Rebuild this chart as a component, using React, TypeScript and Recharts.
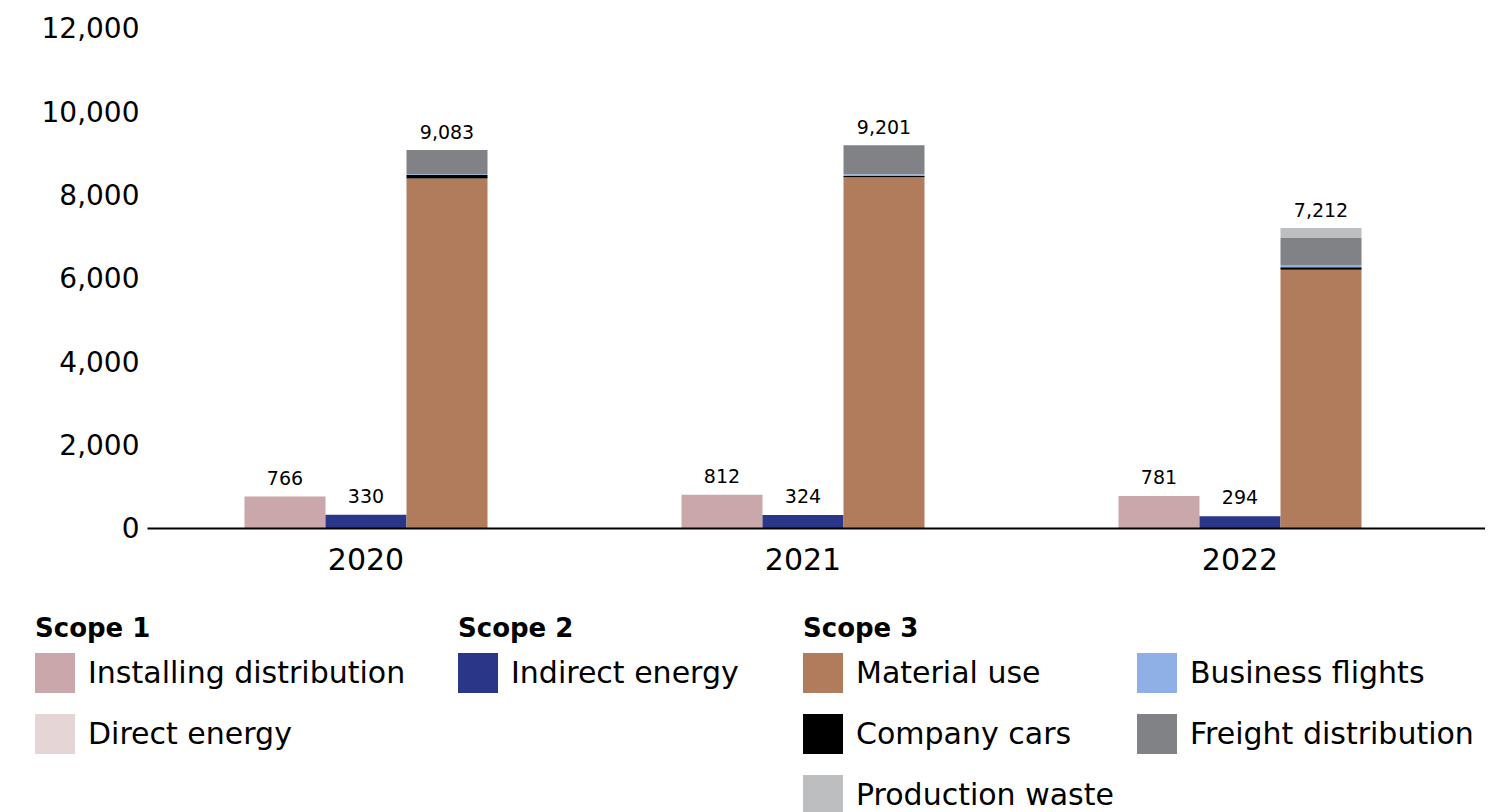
import React from "react";
import { BarChart, Bar, XAxis, YAxis, LabelList } from "recharts";

const years = ["2020", "2021", "2022"];
const installingDistribution = [766, 812, 781];
const directEnergy = [0, 0, 0];
const indirectEnergy = [330, 324, 294];
const materialUse = [8400, 8430, 6210];
const companyCars = [85, 30, 60];
const businessFlights = [20, 45, 40];
const freightDistribution = [578, 696, 675];
const productionWaste = [0, 0, 227];
const scope3Totals = [9083, 9201, 7212];
const yTicks = [0, 2000, 4000, 6000, 8000, 10000, 12000];

const COLORS = {
  installing: "#c9a7aa",
  direct: "#e6d5d7",
  indirect: "#2a3687",
  material: "#b07c5c",
  cars: "#000000",
  flights: "#8fb0e6",
  freight: "#808285",
  waste: "#bdbec0",
};

const data = years.map((y, i) => ({
  year: y,
  installingDistribution: installingDistribution[i],
  directEnergy: directEnergy[i],
  indirectEnergy: indirectEnergy[i],
  materialUse: materialUse[i],
  companyCars: companyCars[i],
  businessFlights: businessFlights[i],
  freightDistribution: freightDistribution[i],
  productionWaste: productionWaste[i],
  totalOnFreight: productionWaste[i] > 0 ? null : scope3Totals[i],
  totalOnWaste: productionWaste[i] > 0 ? scope3Totals[i] : null,
}));

const FONT = "'DejaVu Sans', sans-serif";
const fmt = (v: any) => (v == null ? "" : Number(v).toLocaleString("en-US"));

const legendGroups = [
  { x: 35, title: "Scope 1", items: [{ label: "Installing distribution", color: COLORS.installing, row: 0 }, { label: "Direct energy", color: COLORS.direct, row: 1 }] },
  { x: 458, title: "Scope 2", items: [{ label: "Indirect energy", color: COLORS.indirect, row: 0 }] },
  { x: 803, title: "Scope 3", items: [{ label: "Material use", color: COLORS.material, row: 0 }, { label: "Company cars", color: COLORS.cars, row: 1 }, { label: "Production waste", color: COLORS.waste, row: 2 }] },
  { x: 1137, title: "", items: [{ label: "Business flights", color: COLORS.flights, row: 0 }, { label: "Freight distribution", color: COLORS.freight, row: 1 }] },
];

const labelStyle = { fontFamily: FONT, fontSize: 19, fill: "#000" };

export default function App() {
  return (
    <div style={{ position: "absolute", left: 0, top: 0, width: 1503, height: 812, background: "#fff", fontFamily: FONT, overflow: "hidden" }}>
      <BarChart
        width={1503}
        height={600}
        data={data}
        margin={{ top: 28.5, right: 18, bottom: 31.5, left: 0 }}
        barCategoryGap={97}
        barGap={0}
      >
        <XAxis
          dataKey="year"
          height={40}
          axisLine={{ stroke: "#000", strokeWidth: 2 }}
          tickLine={false}
          tickSize={0}
          tickMargin={20}
          padding={{ left: 0, right: 26.5 }}
          tick={{ fontFamily: FONT, fontSize: 30, fill: "#000" }}
        />
        <YAxis
          width={147.5}
          domain={[0, 12000]}
          ticks={yTicks}
          axisLine={false}
          tickLine={false}
          tickSize={0}
          tickMargin={8}
          tickFormatter={fmt}
          tick={{ fontFamily: FONT, fontSize: 28, fill: "#000" }}
        />
        <Bar dataKey="installingDistribution" stackId="s1" fill={COLORS.installing} isAnimationActive={false}>
          <LabelList dataKey="installingDistribution" position="top" offset={12} formatter={fmt} style={labelStyle} />
        </Bar>
        <Bar dataKey="directEnergy" stackId="s1" fill={COLORS.direct} isAnimationActive={false} />
        <Bar dataKey="indirectEnergy" stackId="s2" fill={COLORS.indirect} isAnimationActive={false}>
          <LabelList dataKey="indirectEnergy" position="top" offset={12} formatter={fmt} style={labelStyle} />
        </Bar>
        <Bar dataKey="materialUse" stackId="s3" fill={COLORS.material} isAnimationActive={false} />
        <Bar dataKey="companyCars" stackId="s3" fill={COLORS.cars} isAnimationActive={false} />
        <Bar dataKey="businessFlights" stackId="s3" fill={COLORS.flights} isAnimationActive={false} />
        <Bar dataKey="freightDistribution" stackId="s3" fill={COLORS.freight} isAnimationActive={false}>
          <LabelList dataKey="totalOnFreight" position="top" offset={11} formatter={fmt} style={labelStyle} />
        </Bar>
        <Bar dataKey="productionWaste" stackId="s3" fill={COLORS.waste} isAnimationActive={false}>
          <LabelList dataKey="totalOnWaste" position="top" offset={11} formatter={fmt} style={labelStyle} />
        </Bar>
      </BarChart>
      {legendGroups.map((g) => (
        <React.Fragment key={g.x}>
          {g.title ? (
            <div style={{ position: "absolute", left: g.x, top: 613, fontSize: 26, fontWeight: "bold", lineHeight: "30px", color: "#000", whiteSpace: "nowrap" }}>
              {g.title}
            </div>
          ) : null}
          {g.items.map((it) => (
            <div key={it.label} style={{ position: "absolute", left: g.x, top: 653 + it.row * 61, height: 40, display: "flex", alignItems: "center", whiteSpace: "nowrap" }}>
              <div style={{ width: 40, height: 40, background: it.color }} />
              <div style={{ marginLeft: 13, fontSize: 30, lineHeight: "40px", color: "#000" }}>{it.label}</div>
            </div>
          ))}
        </React.Fragment>
      ))}
    </div>
  );
}
